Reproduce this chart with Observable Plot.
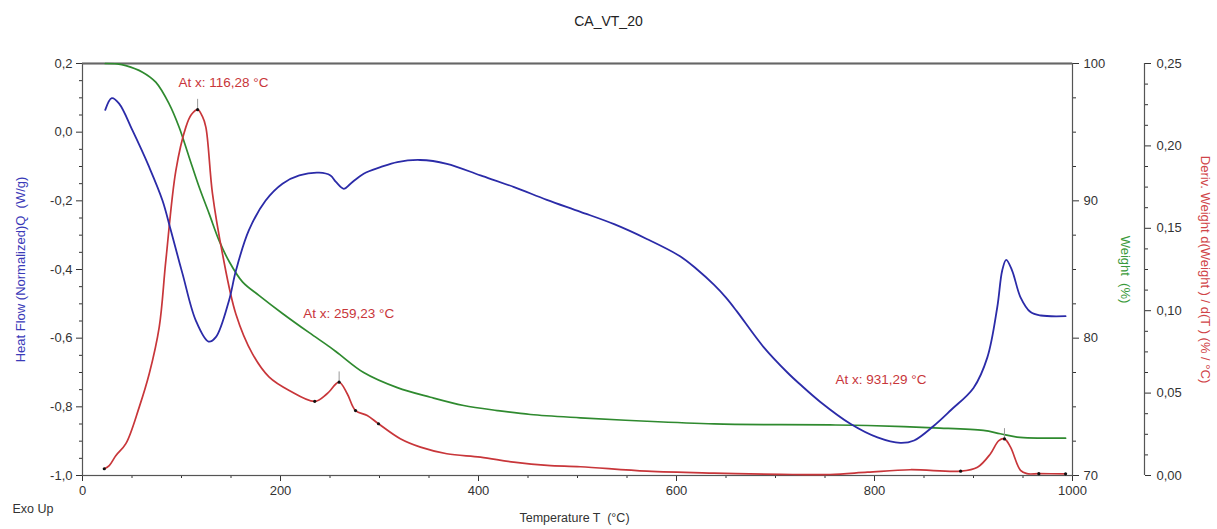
<!DOCTYPE html>
<html>
<head>
<meta charset="utf-8">
<script src="https://cdn.jsdelivr.net/npm/d3@7"></script>
<script src="https://cdn.jsdelivr.net/npm/@observablehq/plot@0.6"></script>
<style>
  html, body { margin: 0; padding: 0; background: #fff; }
  #title { height: 40px; width: 1217px; text-align: center; font: 14px "Liberation Sans", Arial, sans-serif; color: #222; line-height: 42px; }
  #chart svg { display: block; }
</style>
</head>
<body>
<div id="title">CA_VT_20</div>
<div id="chart"></div>
<script>
// ---------- data ----------
const hfT = [23, 29.6, 37, 50.5, 67.4, 80.8, 89.2, 101, 114.5, 127.3, 134.7, 148, 155, 168, 185, 202, 219, 239, 250.5, 256, 264, 270.7, 284, 301, 318, 341, 368, 402, 436, 469, 503, 537, 570, 604, 620, 638, 650, 661, 688, 712, 725, 745, 776, 803, 826, 840, 860, 877, 900, 914, 924, 929, 933, 939, 947.5, 957.6, 968, 993];
const hfV = [0.065, 0.099, 0.083, 0.005, -0.102, -0.199, -0.286, -0.412, -0.549, -0.61, -0.597, -0.49, -0.403, -0.286, -0.199, -0.15, -0.126, -0.118, -0.126, -0.145, -0.165, -0.15, -0.121, -0.102, -0.087, -0.081, -0.092, -0.126, -0.16, -0.197, -0.232, -0.268, -0.311, -0.362, -0.398, -0.445, -0.482, -0.522, -0.626, -0.70, -0.735, -0.785, -0.85, -0.889, -0.905, -0.898, -0.855, -0.81, -0.745, -0.656, -0.51, -0.403, -0.372, -0.403, -0.481, -0.524, -0.534, -0.536];

const wT = [23, 35, 43.8, 60.6, 74, 87.5, 97.6, 107.7, 117.9, 128, 138, 148, 161.6, 178.5, 202, 229, 250, 260, 284, 318, 351.5, 385, 419, 452.5, 503, 570, 638, 705, 755, 793, 860, 910, 927, 944, 993];
const wV = [100, 99.97, 99.85, 99.37, 98.64, 97.06, 95.36, 93.18, 90.99, 89.05, 87.1, 85.6, 84.1, 83.1, 81.8, 80.4, 79.35, 78.8, 77.5, 76.4, 75.7, 75.1, 74.73, 74.44, 74.2, 73.95, 73.76, 73.7, 73.68, 73.64, 73.47, 73.28, 73.04, 72.8, 72.72];

const dT = [22, 27, 33.6, 43.8, 57.3, 67.4, 77.5, 84.2, 94.3, 104.4, 110, 116.3, 121, 124.6, 131.3, 141.4, 154.9, 171.7, 188.6, 208.8, 234.6, 247, 259.2, 267.4, 275.8, 287.6, 299, 321, 341.4, 368, 402, 435.6, 469.4, 503, 570, 638, 705, 755, 793, 836, 887, 904, 917, 925.6, 931.3, 937.4, 947.5, 954, 966, 993];
const dV = [0.0041, 0.006, 0.012, 0.0193, 0.0415, 0.0617, 0.09, 0.1305, 0.185, 0.2114, 0.219, 0.222, 0.218, 0.2114, 0.171, 0.1345, 0.098, 0.0738, 0.0597, 0.0516, 0.045, 0.0496, 0.0566, 0.0496, 0.0394, 0.0364, 0.0314, 0.0223, 0.0172, 0.0132, 0.0111, 0.0081, 0.0061, 0.0053, 0.0026, 0.0014, 0.0007, 0.0006, 0.002, 0.0035, 0.0026, 0.005, 0.0131, 0.0212, 0.0222, 0.0172, 0.0031, 0.0011, 0.0011, 0.001];

// marker points on the derivative curve
const markT = [22, 116.28, 234.6, 259.23, 275.8, 299, 887, 931.29, 966, 993];
const markV = [0.0041, 0.222, 0.045, 0.0566, 0.0394, 0.0314, 0.0026, 0.0222, 0.0011, 0.001];

// peak annotations
const peakT = [116.28, 259.23, 931.29];
const peakV = [0.222, 0.0566, 0.0222];
const annText = ["At x: 116,28 °C", "At x: 259,23 °C", "At x: 931,29 °C"];
const annT = [97, 223, 760.6];
const annHF = [0.145, -0.529, -0.721];

// tick labels
const xTicks = [0, 200, 400, 600, 800, 1000];
const hfTicks = [-1.0, -0.8, -0.6, -0.4, -0.2, 0.0, 0.2];
const wTicks = [70, 80, 90, 100];
const dTicks = [0.00, 0.05, 0.10, 0.15, 0.20, 0.25];

// ---------- mapping of secondary axes onto the heat-flow scale ----------
const wToY = w => -1 + (w - 70) / 30 * 1.2;
const yToW = y => 70 + (y + 1) / 1.2 * 30;
const dToY = d => -1 + d / 0.25 * 1.2;
const yToD = y => (y + 1) / 1.2 * 0.25;

const hf = hfT.map((t, i) => ({t, v: hfV[i]}));
const wt = wT.map((t, i) => ({t, v: wToY(wV[i])}));
const dw = dT.map((t, i) => ({t, v: dToY(dV[i])}));
const marks = markT.map((t, i) => ({t, v: dToY(markV[i])}));
const peaks = peakT.map((t, i) => ({t, v: dToY(peakV[i])}));
const anns = annText.map((s, i) => ({s, t: annT[i], v: annHF[i]}));

const xMinor = d3.range(0, 1001, 50).filter(v => !xTicks.includes(v));
const hfMinor = d3.range(-20, 5).map(k => +(k * 0.05).toFixed(2)).filter(v => Math.round(v * 100) % 20 !== 0);
const wMinor = d3.range(70, 100.1, 2.5).filter(v => v % 10 !== 0).map(wToY);
const dMinor = d3.range(0, 21).map(k => k * 0.0125).filter((v, k) => k % 4 !== 0).map(dToY);

const comma = (v, n) => v.toFixed(n).replace(".", ",");

const BLUE = "#2b2ba8", GREEN = "#2f8a2f", RED = "#c8363a";
const FONT = "'Liberation Sans', Arial, sans-serif";

const chart = Plot.plot({
  width: 1217,
  height: 489,
  marginTop: 23,
  marginBottom: 54,
  marginLeft: 82,
  marginRight: 145,
  style: {fontFamily: FONT, fontSize: "13px", color: "#333", background: "#fff"},
  x: {domain: [0, 1000]},
  y: {domain: [-1, 0.2]},
  marks: [
    // x axis
    Plot.axisX(xTicks, {tickSize: 6, tickPadding: 4, tickFormat: d => String(d), label: null, fontSize: 13}),
    Plot.axisX(xMinor, {tickSize: 3, tickFormat: () => "", label: null}),
    // left heat-flow axis
    Plot.axisY(hfTicks, {anchor: "left", tickSize: 6, tickPadding: 4, tickFormat: d => comma(d, 1), label: null, fontSize: 13}),
    Plot.axisY(hfMinor, {anchor: "left", tickSize: 3, tickFormat: () => "", label: null}),
    // weight axis (right frame)
    Plot.axisY(wTicks.map(wToY), {anchor: "right", tickSize: 6, tickPadding: 5, tickFormat: y => String(Math.round(yToW(y))), label: null, fontSize: 13}),
    Plot.axisY(wMinor, {anchor: "right", tickSize: 3, tickFormat: () => "", label: null}),
    // derivative axis (offset)
    Plot.ruleX([1000], {y1: -1, y2: 0.2, dx: 72, stroke: "#555", strokeWidth: 1.2}),
    Plot.axisY(dTicks.map(dToY), {anchor: "right", dx: 72, tickSize: 6, tickPadding: 6, tickFormat: y => comma(yToD(y), 2), label: null, fontSize: 13}),
    Plot.axisY(dMinor, {anchor: "right", dx: 72, tickSize: 3, tickFormat: () => "", label: null}),
    Plot.frame({stroke: "#555", strokeWidth: 1.2}),
    Plot.ruleY([0.2], {stroke: "#666", strokeWidth: 2}),
    // curves
    Plot.line(wt, {x: "t", y: "v", stroke: GREEN, strokeWidth: 1.7, curve: "catmull-rom"}),
    Plot.line(dw, {x: "t", y: "v", stroke: RED, strokeWidth: 1.7, curve: "catmull-rom"}),
    Plot.line(hf, {x: "t", y: "v", stroke: BLUE, strokeWidth: 1.8, curve: "catmull-rom"}),
    // peak markers
    Plot.ruleX(peaks, {x: "t", y1: "v", y2: d => d.v + 0.03, stroke: "#999", strokeWidth: 1}),
    Plot.dot(marks, {x: "t", y: "v", r: 1.6, fill: "#111", stroke: null}),
    // annotations
    Plot.text(anns, {x: "t", y: "v", text: "s", fill: RED, fontSize: 13.5, textAnchor: "start", fontFamily: FONT}),
    // axis titles
    Plot.text(["Heat Flow (Normalized)Q  (W/g)"], {frameAnchor: "left", dx: -62, rotate: -90, textAnchor: "middle", fill: "#3a3ab8", fontSize: 13, fontFamily: FONT}),
    Plot.text(["Weight  (%)"], {frameAnchor: "right", dx: 53, rotate: 90, textAnchor: "middle", fill: "#3a9a3a", fontSize: 13, fontFamily: FONT}),
    Plot.text(["Deriv. Weight d(Weight ) / d(T ) (% / °C)"], {frameAnchor: "right", dx: 133, rotate: 90, textAnchor: "middle", fill: "#d04448", fontSize: 13, fontFamily: FONT}),
    Plot.text(["Temperature T  (°C)"], {frameAnchor: "bottom", dx: -3, dy: 46, fill: "#333", fontSize: 12.5, fontFamily: FONT}),
    Plot.text(["Exo Up"], {frameAnchor: "bottom-left", dx: -70, dy: 37, textAnchor: "start", fill: "#333", fontSize: 12.5, fontFamily: FONT})
  ]
});
document.getElementById("chart").append(chart);
</script>
</body>
</html>
